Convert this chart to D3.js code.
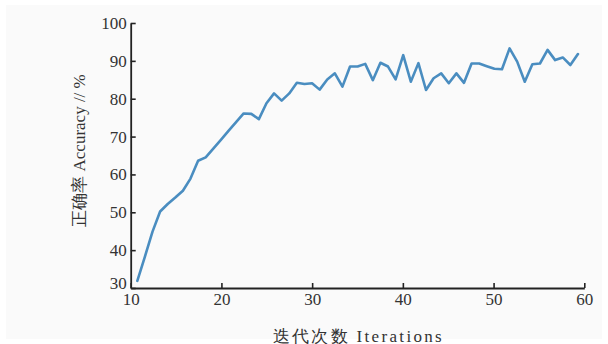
<!DOCTYPE html>
<html>
<head>
<meta charset="utf-8">
<script src="https://cdn.jsdelivr.net/npm/d3@7"></script>
<style>
  body { margin: 0; background: #fff; }
</style>
</head>
<body>
<div id="chart"></div>
<script>
const accuracy = [
  31.9, 38.3, 44.9, 50.2, 52.2, 53.9, 55.7, 58.9, 63.6, 64.5,
  66.8, 69.1, 71.5, 73.8, 76.1, 76.0, 74.6, 78.8, 81.4, 79.5,
  81.4, 84.2, 83.9, 84.1, 82.4, 85.1, 86.7, 83.2, 88.5, 88.5,
  89.2, 84.9, 89.5, 88.5, 85.1, 91.5, 84.5, 89.4, 82.3, 85.4,
  86.7, 84.1, 86.7, 84.2, 89.3, 89.3, 88.6, 87.9, 87.8, 93.3,
  89.8, 84.5, 89.1, 89.3, 92.9, 90.2, 90.9, 88.9, 91.8
];
const iterStart = 10.73;
const iterEnd = 59.3;
const xTicks = [10, 20, 30, 40, 50, 60];
const yTicks = [30, 40, 50, 60, 70, 80, 90, 100];
const xTitle = '迭代次数 Iterations';
const yTitle = '正确率 Accuracy // %';

const serif = '"Liberation Serif", "DejaVu Serif", serif';
const W = 608, H = 344;
const svg = d3.select('#chart').append('svg').attr('width', W).attr('height', H);

// faint grey panel inside a white border
svg.append('rect')
  .attr('x', 6).attr('y', 5)
  .attr('width', W - 12).attr('height', H - 10)
  .attr('fill', '#fafafa');

const xScale = d3.scaleLinear().domain([10, 60]).range([130.7, 584.3]);
const yScale = d3.scaleLinear().domain([30, 100]).range([288, 23]);

const step = (iterEnd - iterStart) / (accuracy.length - 1);
const points = accuracy.map((v, i) => ({ iter: iterStart + i * step, acc: v }));

const styleAxis = g => {
  g.attr('font-family', serif).attr('font-size', 17);
  g.select('.domain').attr('stroke', '#222').attr('stroke-width', 1.8);
  g.selectAll('.tick line').attr('stroke', '#222').attr('stroke-width', 1.6);
  g.selectAll('.tick text').attr('fill', '#333');
};

// X axis (ticks pointing inward)
const gx = svg.append('g')
  .attr('transform', `translate(0,${yScale(30)})`)
  .call(d3.axisBottom(xScale).tickValues(xTicks).tickSizeInner(-5).tickSizeOuter(0).tickPadding(5));
styleAxis(gx);

// Y axis
const gy = svg.append('g')
  .attr('transform', `translate(${xScale(10)},0)`)
  .call(d3.axisLeft(yScale).tickValues(yTicks).tickSizeInner(-5).tickSizeOuter(0).tickPadding(4));
styleAxis(gy);
// lift the lowest label a little so it clears the "10" below it
gy.selectAll('.tick text').filter(d => d === 30).attr('dy', '0.05em');

// the accuracy curve
const line = d3.line()
  .x(d => xScale(d.iter))
  .y(d => yScale(d.acc));

svg.append('path')
  .datum(points)
  .attr('d', line)
  .attr('fill', 'none')
  .attr('stroke', '#4a8dc0')
  .attr('stroke-width', 2.6)
  .attr('stroke-linejoin', 'round')
  .attr('stroke-linecap', 'round');

// axis titles
svg.append('text')
  .attr('x', 272.7).attr('y', 336)
  .attr('dominant-baseline', 'central')
  .attr('textLength', 169).attr('lengthAdjust', 'spacing')
  .attr('font-family', serif).attr('font-size', 17).attr('fill', '#333')
  .text(xTitle);

svg.append('text')
  .attr('transform', `translate(79,150.5) rotate(-90)`)
  .attr('text-anchor', 'middle')
  .attr('dominant-baseline', 'central')
  .attr('font-family', serif).attr('font-size', 17).attr('fill', '#333')
  .text(yTitle);
</script>
</body>
</html>
